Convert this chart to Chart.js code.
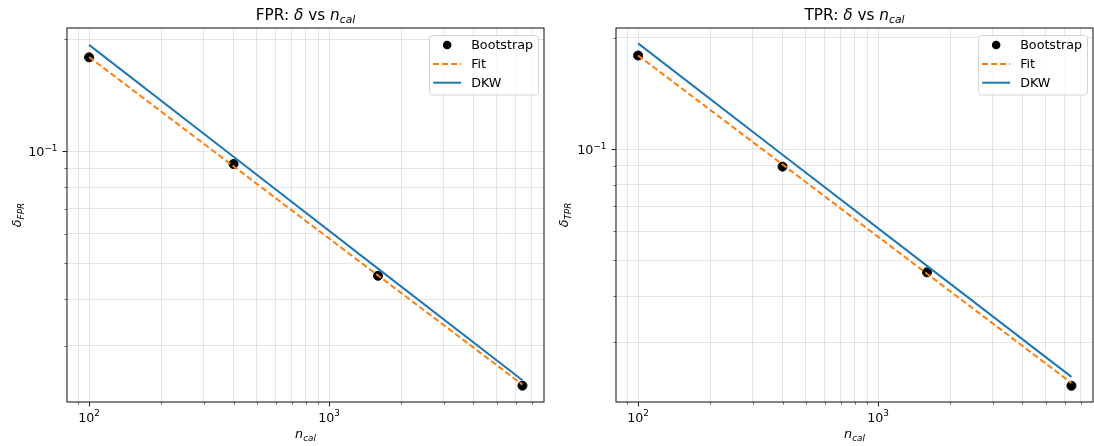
<!DOCTYPE html>
<html><head><meta charset="utf-8">
<script src="https://cdn.jsdelivr.net/npm/chart.js@4/dist/chart.umd.min.js"></script>
<style>
html,body{margin:0;padding:0;background:#fff;}
#wrap{position:relative;width:1094px;height:446px;overflow:hidden;}
.c{position:absolute;top:0;height:446px;width:547px;}
</style></head><body>
<div id="wrap">
<div class="c" style="left:0"><canvas id="c1" width="547" height="446"></canvas></div>
<div class="c" style="left:547px"><canvas id="c2" width="547" height="446"></canvas></div>
</div>
<script>
// ---- data ----
const nCal = [100, 400, 1600, 6400];
const fprBootstrap = [0.1786, 0.0923, 0.0462, 0.0234];
const fprFit = [0.1790, 0.0910, 0.0463, 0.02355];
const fprDKW = [0.1930, 0.0965, 0.0483, 0.0242];
const tprBootstrap = [0.1790, 0.0896, 0.0464, 0.0229];
const tprFit = [0.1790, 0.0908, 0.0460, 0.0233];
const tprDKW = [0.1930, 0.0965, 0.0483, 0.0242];
const seriesLabels = ['Bootstrap', 'Fit', 'DKW'];
const xTickValues = [90, 100, 200, 300, 400, 500, 600, 700, 800, 900, 1000, 2000, 3000, 4000, 5000, 6000, 7000];
const xMajorTicks = [100, 1000];
const xMajorExp = ['2', '3'];
const yTickValues = [0.03, 0.04, 0.05, 0.06, 0.07, 0.08, 0.09, 0.1, 0.2];
const yMajorTicks = [0.1];
const yMajorExp = ['\u22121'];

const FONT = "'DejaVu Sans', 'Noto Sans', sans-serif";
const BLUE = '#1f77b4', ORANGE = '#ff7f0e';
const FS = 12.7, TFS = 15.3;

function drawParts(ctx, parts, x, y, size) {
  let cx = x;
  for (const p of parts) {
    const s = (p.sub || p.sup) ? size * 0.7 : size;
    ctx.font = (p.it ? 'italic ' : '') + s + 'px ' + FONT;
    const dy = p.sub ? size * 0.22 : (p.sup ? -size * 0.42 : 0);
    ctx.fillText(p.t, cx, y + dy);
    cx += ctx.measureText(p.t).width;
  }
  return cx - x;
}
function measureParts(ctx, parts, size) {
  let w = 0;
  for (const p of parts) {
    const s = (p.sub || p.sup) ? size * 0.7 : size;
    ctx.font = (p.it ? 'italic ' : '') + s + 'px ' + FONT;
    w += ctx.measureText(p.t).width;
  }
  return w;
}

const decorPlugin = {
  id: 'decor',
  beforeDraw(chart) {
    const ctx = chart.ctx;
    ctx.save(); ctx.fillStyle = '#fff'; ctx.fillRect(0, 0, chart.width, chart.height); ctx.restore();
  },
  afterDraw(chart, args, opts) {
    const ctx = chart.ctx, a = chart.chartArea;
    const xs = chart.scales.x, ys = chart.scales.y;
    ctx.save();
    ctx.strokeStyle = '#222'; ctx.lineWidth = 1.1;
    ctx.strokeRect(a.left, a.top, a.right - a.left, a.bottom - a.top);
    ctx.strokeStyle = '#222';
    for (const v of xTickValues) {
      const px = Math.round(xs.getPixelForValue(v)) + 0.5;
      const major = xMajorTicks.includes(v);
      ctx.lineWidth = major ? 1 : 0.7;
      ctx.beginPath(); ctx.moveTo(px, a.bottom); ctx.lineTo(px, a.bottom + (major ? 4.5 : 2.5)); ctx.stroke();
    }
    for (const v of yTickValues) {
      const py = Math.round(ys.getPixelForValue(v)) + 0.5;
      const major = yMajorTicks.includes(v);
      ctx.lineWidth = major ? 1 : 0.7;
      ctx.beginPath(); ctx.moveTo(a.left, py); ctx.lineTo(a.left - (major ? 4.5 : 2.5), py); ctx.stroke();
    }
    ctx.fillStyle = '#000'; ctx.textBaseline = 'alphabetic'; ctx.textAlign = 'left';
    xMajorTicks.forEach((v, i) => {
      const parts = [{t: '10'}, {t: xMajorExp[i], sup: true}];
      const w = measureParts(ctx, parts, FS);
      const px = xs.getPixelForValue(v);
      drawParts(ctx, parts, px - w / 2, a.bottom + 19.5, FS);
    });
    yMajorTicks.forEach((v, i) => {
      const parts = [{t: '10'}, {t: yMajorExp[i], sup: true}];
      const w = measureParts(ctx, parts, FS);
      const py = ys.getPixelForValue(v);
      drawParts(ctx, parts, a.left - 9.5 - w, py + 5, FS);
    });
    const tw = measureParts(ctx, opts.title, TFS);
    drawParts(ctx, opts.title, (a.left + a.right) / 2 - tw / 2, 20, TFS);
    const xl = [{t: 'n', it: true}, {t: 'cal', it: true, sub: true}];
    const xw = measureParts(ctx, xl, FS);
    drawParts(ctx, xl, (a.left + a.right) / 2 - xw / 2, 438, FS);
    const yl = [{t: '\u03b4', it: true}, {t: opts.ysub, it: true, sub: true}];
    const yw = measureParts(ctx, yl, FS);
    ctx.save();
    ctx.translate(opts.ylabelX, (a.top + a.bottom) / 2);
    ctx.rotate(-Math.PI / 2);
    drawParts(ctx, yl, -yw / 2, 0, FS);
    ctx.restore();
    // legend
    ctx.font = FS + 'px ' + FONT;
    let maxW = 0;
    seriesLabels.forEach(l => { maxW = Math.max(maxW, ctx.measureText(l).width); });
    const bw = 4 + 28 + 10 + maxW + 5, bh = 59.5;
    const bx = a.right - 6 - bw, by = a.top + 7;
    ctx.beginPath();
    if (ctx.roundRect) ctx.roundRect(bx + 0.5, by + 0.5, bw, bh, 3); else ctx.rect(bx + 0.5, by + 0.5, bw, bh);
    ctx.fillStyle = 'rgba(255,255,255,0.8)'; ctx.fill();
    ctx.strokeStyle = '#d4d4d4'; ctx.lineWidth = 1; ctx.stroke();
    const rows = [by + 10, by + 29, by + 47.7];
    const hx0 = bx + 4, hx1 = bx + 32;
    ctx.fillStyle = '#000';
    ctx.beginPath(); ctx.arc((hx0 + hx1) / 2, rows[0], 4.3, 0, Math.PI * 2); ctx.fill();
    ctx.strokeStyle = ORANGE; ctx.lineWidth = 2; ctx.setLineDash([6, 3]);
    ctx.beginPath(); ctx.moveTo(hx0, rows[1]); ctx.lineTo(hx1, rows[1]); ctx.stroke();
    ctx.setLineDash([]);
    ctx.strokeStyle = BLUE;
    ctx.beginPath(); ctx.moveTo(hx0, rows[2]); ctx.lineTo(hx1, rows[2]); ctx.stroke();
    ctx.fillStyle = '#000'; ctx.font = FS + 'px ' + FONT; ctx.textBaseline = 'middle';
    seriesLabels.forEach((l, i) => ctx.fillText(l, hx1 + 10, rows[i] + 0.5));
    ctx.restore();
  }
};

function pts(ys) { return nCal.map((n, i) => ({x: n, y: ys[i]})); }

function makeChart(id, boot, fit, dkw, yMin, yMax, padLeft, padRight, title, ysub, ylabelX) {
  return new Chart(document.getElementById(id), {
    type: 'scatter',
    data: {
      datasets: [
        {label: seriesLabels[0], data: pts(boot), backgroundColor: '#000', borderColor: '#000', pointRadius: 4.5, pointHoverRadius: 4.5, showLine: false, order: 3},
        {label: seriesLabels[1], data: pts(fit), borderColor: ORANGE, borderWidth: 2, borderDash: [6, 3], pointRadius: 0, showLine: true, fill: false, order: 2},
        {label: seriesLabels[2], data: pts(dkw), borderColor: BLUE, borderWidth: 2, pointRadius: 0, showLine: true, fill: false, order: 1}
      ]
    },
    options: {
      responsive: false, animation: false, devicePixelRatio: 1,
      layout: {autoPadding: false, padding: {left: padLeft, right: padRight, top: 28, bottom: 44}},
      plugins: {legend: {display: false}, tooltip: {enabled: false}, title: {display: false},
        decor: {title: title, ysub: ysub, ylabelX: ylabelX}},
      scales: {
        x: {type: 'logarithmic', min: 80.9, max: 7870,
          afterBuildTicks: s => { s.ticks = xTickValues.map(v => ({value: v})); },
          ticks: {display: false}, border: {display: false},
          grid: {color: 'rgba(0,0,0,0.11)', lineWidth: 0.9, drawTicks: false}},
        y: {type: 'logarithmic', min: yMin, max: yMax,
          afterBuildTicks: s => { s.ticks = yTickValues.map(v => ({value: v})); },
          ticks: {display: false}, border: {display: false},
          grid: {color: 'rgba(0,0,0,0.11)', lineWidth: 0.9, drawTicks: false}}
      }
    },
    plugins: [decorPlugin]
  });
}

makeChart('c1', fprBootstrap, fprFit, fprDKW, 0.02115, 0.2142, 67, 3,
  [{t: 'FPR: '}, {t: '\u03b4', it: true}, {t: ' vs '}, {t: 'n', it: true}, {t: 'cal', it: true, sub: true}], 'FPR', 21);
makeChart('c2', tprBootstrap, tprFit, tprDKW, 0.0207, 0.2124, 69, 1,
  [{t: 'TPR: '}, {t: '\u03b4', it: true}, {t: ' vs '}, {t: 'n', it: true}, {t: 'cal', it: true, sub: true}], 'TPR', 21);
</script>
</body></html>
